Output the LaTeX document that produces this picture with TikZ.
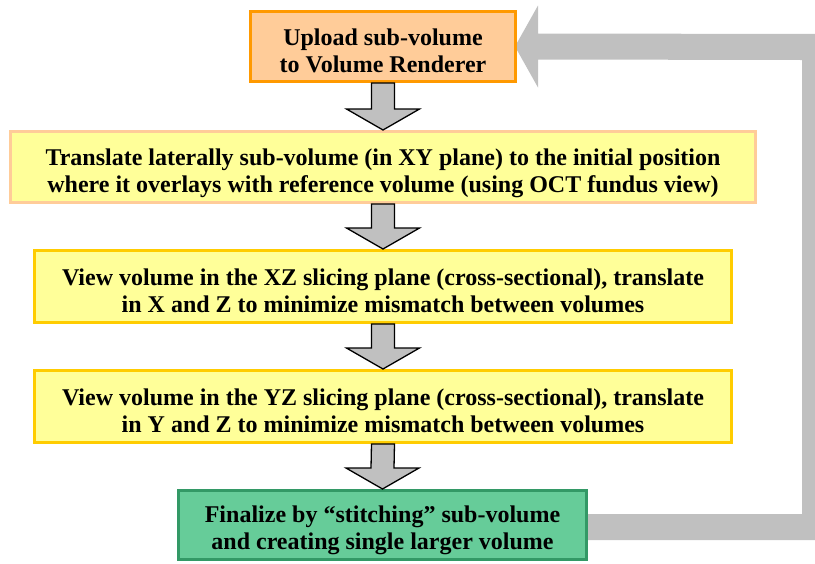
\documentclass[tikz,border=0pt]{standalone}
\usepackage{fontspec}
\setmainfont{Liberation Serif}
\usetikzlibrary{calc,backgrounds}
\definecolor{orfill}{HTML}{FFCC99}
\definecolor{ordraw}{HTML}{FF9900}
\definecolor{yefill}{HTML}{FFFF99}
\definecolor{yedraw}{HTML}{FFCC00}
\definecolor{grfill}{HTML}{66CC99}
\definecolor{grdraw}{HTML}{339966}
\definecolor{arrgray}{HTML}{C0C0C0}
\tikzset{
  box/.style={rectangle, line width=3pt, inner sep=0pt},
  txt/.style={align=center, inner sep=0pt,
    font=\fontsize{24}{27}\selectfont\bfseries,
    execute at begin node={\rule{0pt}{26pt}},
    execute at end node={\rule[-6pt]{0pt}{6pt}}},
  downarrow/.style={fill=arrgray, draw=black, line width=1.3pt, line join=miter},
  fbarrow/.style={fill=arrgray}
}
\begin{document}
\begin{tikzpicture}[x=1pt,y=-1pt]
\useasboundingbox (0,0) rectangle (815,563);
\node[box, fill=orfill, draw=ordraw, minimum width=265pt, minimum height=70pt] (b1) at (383,46.5) {};
\node[box, fill=yefill, draw=orfill, minimum width=745pt, minimum height=71pt] (b2) at (383,167) {};
\node[box, fill=yefill, draw=yedraw, minimum width=697pt, minimum height=72pt] (b3) at (383,286.5) {};
\node[box, fill=yefill, draw=yedraw, minimum width=697pt, minimum height=72pt] (b4) at (383,406.5) {};
\node[box, fill=grfill, draw=grdraw, minimum width=408pt, minimum height=69pt] (b5) at (382.5,525) {};
\node[txt] (t1) at ($(b1.center)+(0,7)$) {Upload sub-volume\\to Volume Renderer};
\node[txt] (t2) at ($(b2.center)+(0,7)$)
  {Translate laterally sub-volume (in XY plane) to the initial position\\where it overlays with reference volume (using OCT fundus view)};
\node[txt] (t3) at ($(b3.center)+(0,7)$)
  {View volume in the XZ slicing plane (cross-sectional), translate\\in X and Z to minimize mismatch between volumes};
\node[txt] (t4) at ($(b4.center)+(0,7)$)
  {View volume in the YZ slicing plane (cross-sectional), translate\\in Y and Z to minimize mismatch between volumes};
\node[txt] (t5) at ($(b5.center)+(0,6)$)
  {Finalize by ``stitching'' sub-volume\\and creating single larger volume};
\coordinate (rc) at (815,47);
% down arrows
\foreach \a/\b in {b1/b2,b2/b3,b3/b4,b4/b5}{
  \draw[downarrow] ($(\a.south)+(-11.5,0)$) -- ($(\b.north)+(-11.5,-21)$) -- ($(\b.north)+(-36.5,-21)$)
    -- (\b.north) -- ($(\b.north)+(36.5,-21)$) -- ($(\b.north)+(11.5,-21)$) -- ($(\a.south)+(11.5,0)$) -- cycle;
}
% feedback arrow
\begin{pgfonlayer}{background}
\fill[fbarrow] ($(b5.east)+(0,-11)$) -| ($(rc)+(-13,13)$) -- ($(b1.east)+(21,13)$) -- ($(b1.east)+(21,41)$)
  -- ($(b1.east)+(-2,0)$) -- ($(b1.east)+(21,-41)$) -- ($(b1.east)+(21,-13)$) -- ($(rc)+(13,-13)$)
  |- ($(b5.east)+(0,15)$) -- cycle;
\end{pgfonlayer}
\end{tikzpicture}
\end{document}
